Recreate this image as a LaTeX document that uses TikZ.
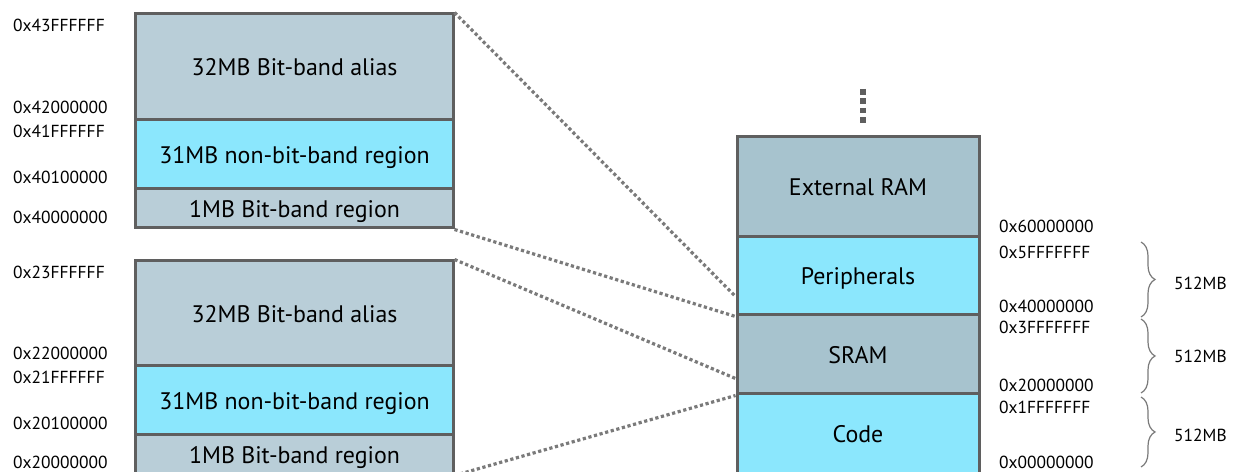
\documentclass[tikz,border=0pt]{standalone}
\usepackage{fontspec}
\setmainfont{PT Sans}
\usetikzlibrary{decorations.pathreplacing}

\definecolor{bandgray}{HTML}{B9CED8}
\definecolor{ramgray}{HTML}{A7C3CE}
\definecolor{regcyan}{HTML}{8BE7FD}
\definecolor{edgegray}{HTML}{5F5F5F}
\definecolor{linkgray}{HTML}{7A7A7A}
\definecolor{bracegray}{HTML}{7A7A7A}

\begin{document}
\begin{tikzpicture}[x=1bp, y=-1bp,
  region/.style={draw=edgegray, line width=3bp, inner sep=0pt,
    text depth=0pt, font=\fontsize{24}{27}\selectfont},
  leftreg/.style={region, minimum width=317bp},
  rightreg/.style={region, minimum width=242bp},
  addr/.style={anchor=west, inner sep=0pt, font=\fontsize{17.5}{20}\selectfont},
  link/.style={draw=linkgray, line width=3.2bp, dash pattern=on 3.2bp off 2.6bp},
  sizebrace/.style={draw=bracegray, line width=1.2bp,
    decorate, decoration={brace, amplitude=14bp, aspect=0.5}},
]
\clip (0,0) rectangle (1237,472);
\fill[white] (0,0) rectangle (1237,472);

% ---- upper bit-band block (peripherals) ----
\node[leftreg, fill=bandgray, minimum height=106bp] (palias) at (294.5,67) {32MB Bit-band alias};
\node[leftreg, fill=regcyan,  minimum height=69bp]  (pnon)   at (294.5,154.5) {31MB non-bit-band region};
\node[leftreg, fill=bandgray, minimum height=39bp]  (pband)  at (294.5,208.5) {1MB Bit-band region};

% ---- lower bit-band block (SRAM) ----
\node[leftreg, fill=bandgray, minimum height=105bp] (salias) at (294.5,313.5) {32MB Bit-band alias};
\node[leftreg, fill=regcyan,  minimum height=69bp]  (snon)   at (294.5,400.5) {31MB non-bit-band region};
\node[leftreg, fill=bandgray, minimum height=39bp]  (sband)  at (294.5,454.5) {1MB Bit-band region};

% ---- system memory map ----
\node[rightreg, fill=ramgray, minimum height=100bp] (extram) at (858,187) {External RAM};
\node[rightreg, fill=regcyan, minimum height=78bp]  (periph) at (858,276) {Peripherals};
\node[rightreg, fill=ramgray, minimum height=79bp]  (sram)   at (858,354.5) {SRAM};
\node[rightreg, fill=regcyan, minimum height=80bp]  (code)   at (858,434) {Code};

% continuation dots above the map
\coordinate (more) at (863,89);
\draw[edgegray, line width=5.6bp, dash pattern=on 5.6bp off 3.8bp] (more) -- ++(0,34);

% ---- address labels, left ----
\node[addr] (a43) at (13,25)  {0x43FFFFFF};
\node[addr] (a42) at (13,107) {0x42000000};
\node[addr] (a41) at (13,131) {0x41FFFFFF};
\node[addr] (a401) at (13,177) {0x40100000};
\node[addr] (a40) at (13,217) {0x40000000};
\node[addr] (a23) at (13,272) {0x23FFFFFF};
\node[addr] (a22) at (13,353) {0x22000000};
\node[addr] (a21) at (13,377) {0x21FFFFFF};
\node[addr] (a201) at (13,423) {0x20100000};
\node[addr] (a20) at (13,462) {0x20000000};

% ---- address labels, right ----
\node[addr] (r60) at (999,226) {0x60000000};
\node[addr] (r5f) at (999,252) {0x5FFFFFFF};
\node[addr] (r40) at (999,306) {0x40000000};
\node[addr] (r3f) at (999,327) {0x3FFFFFFF};
\node[addr] (r20) at (999,385) {0x20000000};
\node[addr] (r1f) at (999,407) {0x1FFFFFFF};
\node[addr] (r00) at (999,462) {0x00000000};

% ---- region sizes ----
\coordinate (b1t) at (1141,242); \coordinate (b1b) at (1141,317);
\coordinate (b2t) at (1141,319); \coordinate (b2b) at (1141,393);
\coordinate (b3t) at (1141,397); \coordinate (b3b) at (1141,467);
\draw[sizebrace] (b1t) -- (b1b);
\draw[sizebrace] (b2t) -- (b2b);
\draw[sizebrace] (b3t) -- (b3b);
\node[addr] (s1) at (1174,283) {512MB};
\node[addr] (s2) at (1174,356) {512MB};
\node[addr] (s3) at (1174,435) {512MB};

% ---- mapping lines ----
\draw[link] (palias.north east) -- ([yshift=20bp]periph.south west);
\draw[link] (pband.south east) -- (periph.south west);
\draw[link] (salias.north east) -- ([yshift=17bp]sram.south west);
\draw[link] (sband.south east) -- (sram.south west);
\end{tikzpicture}
\end{document}
